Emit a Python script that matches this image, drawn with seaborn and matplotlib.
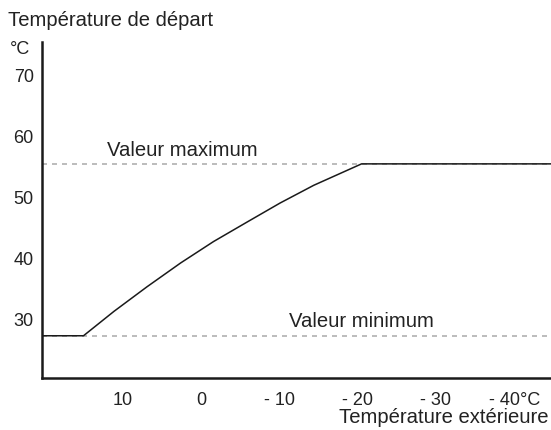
import matplotlib
matplotlib.use("Agg")
import matplotlib.pyplot as plt
import seaborn as sns
import pandas as pd

# heating curve (outdoor temp -> supply temp)
outdoor_temp = [20.3, 15.0, 11.1, 6.9, 2.6, -1.6, -5.9, -10.1, -14.4, -20.5, -44.7]
supply_temp = [27.4, 27.4, 31.4, 35.4, 39.3, 42.8, 46.0, 49.1, 52.0, 55.5, 55.5]

min_value = 27.4
max_value = 55.5

x_tick_pos = [15, 5, -5, -15, -25, -35]
x_label_pos = [10, 0, -10, -20, -30, -40]
x_labels = ["10", "0", "- 10", "- 20", "- 30", "- 40°C"]
y_label_pos = [30, 40, 50, 60, 70]

sns.set_theme(style="white")
plt.rcParams['font.family'] = ['Liberation Sans', 'DejaVu Sans']

txt_color = "#222222"
df = pd.DataFrame({"outdoor": outdoor_temp, "supply": supply_temp})

fig = plt.figure(figsize=(5.51, 4.30), dpi=100)
ax = fig.add_axes([0.0762, 0.121, 0.924, 0.781])

ax.axhline(min_value, color="#b0b0b0", lw=1.2, ls=(0, (3, 3)), zorder=1)
ax.axhline(max_value, color="#b0b0b0", lw=1.2, ls=(0, (3, 3)), zorder=1)

sns.lineplot(data=df, x="outdoor", y="supply", ax=ax, color="#1a1a1a",
             lw=1.1, sort=False, estimator=None, zorder=3)

ax.set_xlim(20.3, -44.7)
ax.set_ylim(20.5, 75.4)

for side in ["top", "right"]:
    ax.spines[side].set_visible(False)
for side in ["left", "bottom"]:
    ax.spines[side].set_color("#1a1a1a")
    ax.spines[side].set_linewidth(1.8)

# ticks between the labels, labels themselves without marks
ax.set_xticks(x_tick_pos)
ax.set_xticklabels([])
ax.set_xticks(x_label_pos, minor=True)
ax.set_xticklabels(x_labels, minor=True, fontsize=13, color=txt_color)
ax.tick_params(axis="x", which="major", direction="inout", length=8, width=1, color="#1a1a1a")
ax.tick_params(axis="x", which="minor", length=0, pad=10)

ax.set_yticks(y_label_pos)
ax.set_yticklabels([str(v) for v in y_label_pos], fontsize=13, color=txt_color)
ax.tick_params(axis="y", length=0, pad=6)

ax.set_xlabel("")
ax.set_ylabel("")

fig.text(0.015, 0.952, "Température de départ", fontsize=14.6, color=txt_color,
         ha="left", va="center")
fig.text(0.018, 0.886, "°C", fontsize=13, color=txt_color, ha="left", va="center")
fig.text(0.996, 0.03, "Température extérieure", fontsize=14.6, color=txt_color,
         ha="right", va="center")

ax.text(12.0, max_value + 0.7, "Valeur maximum", fontsize=14.6, color=txt_color,
        ha="left", va="bottom")
ax.text(-11.2, min_value + 0.7, "Valeur minimum", fontsize=14.6, color=txt_color,
        ha="left", va="bottom")

plt.savefig("out.png", dpi=100)
plt.close()
